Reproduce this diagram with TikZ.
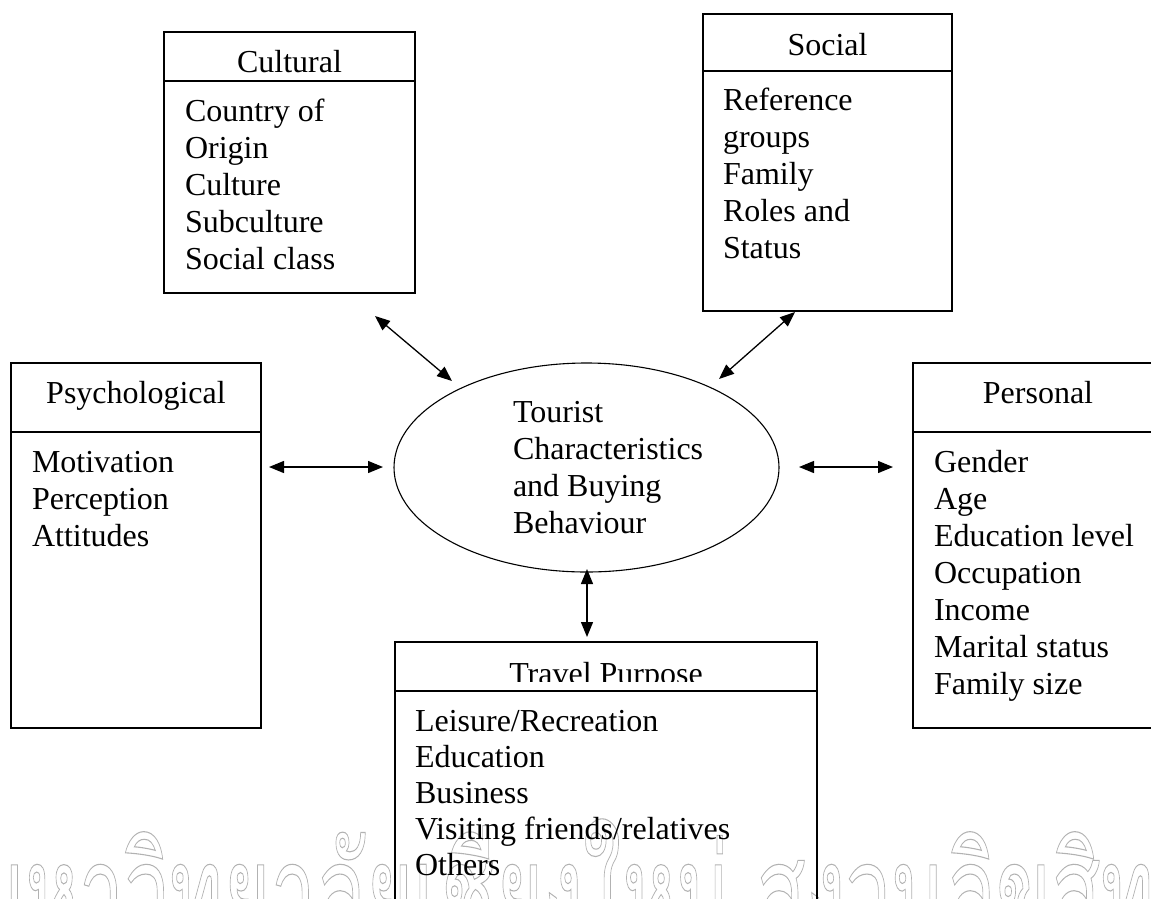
\documentclass[tikz,border=0pt]{standalone}
\usepackage{fontspec}
\setmainfont{Liberation Serif}
\newfontfamily\thaifont[Script=Thai]{Loma}
\usetikzlibrary{arrows.meta,shapes.geometric}

% outlined (stroked) text for the faint university mark
\newcommand{\outlined}[1]{\special{pdf:literal direct 1 Tr 1.1 w}#1\special{pdf:literal direct 0 Tr}}

\begin{document}
\begin{tikzpicture}[x=1pt,y=-1pt,
  every node/.style={inner sep=0pt, outer sep=0pt},
  frame/.style={draw, line width=1.6pt, anchor=north west},
  heading/.style={font=\fontsize{32}{37}\selectfont, anchor=base},
  items/.style={font=\fontsize{32}{37}\selectfont, align=left, anchor=north west},
  link/.style={{Triangle[length=15pt,width=12pt]}-{Triangle[length=15pt,width=12pt]}, line width=1.3pt}]

\useasboundingbox (0,0) rectangle (1151,898);

% faint outlined mark along the bottom edge
\node[anchor=base west, xscale=0.6, text=black!30,
      font=\thaifont\fontsize{135}{135}\selectfont] (mark) at (-28,940)
  {\outlined{มหาวิทยาลัยเชียงใหม่ สงวนลิขสิทธิ์}};

% Cultural
\node[frame, minimum width=251pt, minimum height=49pt] (cultHead) at (164,32) {};
\node[frame, minimum width=251pt, minimum height=212pt] (cultBody) at (164,81) {};
\node[heading] (cultTitle) at (289.5,72) {Cultural};
\node[items] (cultItems) at (185,95.1) {\strut Country of\\Origin\\Culture\\Subculture\\Social class};

% Social
\node[frame, minimum width=249pt, minimum height=57pt] (socHead) at (703,14) {};
\node[frame, minimum width=249pt, minimum height=240pt] (socBody) at (703,71) {};
\node[heading] (socTitle) at (827.5,55) {Social};
\node[items] (socItems) at (723,84.1) {\strut Reference\\groups\\Family\\Roles and\\Status};

% Psychological
\node[frame, minimum width=250pt, minimum height=69pt] (psyHead) at (11,363) {};
\node[frame, minimum width=250pt, minimum height=296pt] (psyBody) at (11,432) {};
\node[heading] (psyTitle) at (136,403) {Psychological};
\node[items] (psyItems) at (32,446.1) {\strut Motivation\\Perception\\Attitudes};

% Personal
\node[frame, minimum width=250pt, minimum height=69pt] (perHead) at (913,363) {};
\node[frame, minimum width=250pt, minimum height=296pt] (perBody) at (913,432) {};
\node[heading] (perTitle) at (1038,403) {Personal};
\node[items] (perItems) at (934,446.1) {\strut Gender\\Age\\Education level\\Occupation\\Income\\Marital status\\Family size};

% Travel Purpose
\node[frame, minimum width=422pt, minimum height=49pt] (trvHead) at (395,642) {};
\node[frame, minimum width=422pt, minimum height=300pt] (trvBody) at (395,691) {};
\begin{scope}
  \clip (395,600) rectangle (817,681);
  \node[heading] (trvTitle) at (606,684) {Travel Purpose};
\end{scope}
\node[items, font=\fontsize{32}{36}\selectfont] (trvItems) at (415,706.1)
  {\strut Leisure/Recreation\\Education\\Business\\Visiting friends/relatives\\Others};

% centre
\node[draw, ellipse, line width=1.1pt, minimum width=385pt, minimum height=209pt] (core) at (586.5,467.5) {};
\node[items] (coreText) at (513,396.1) {\strut Tourist\\Characteristics\\and Buying\\Behaviour};

% connector ends
\coordinate (cultEnd) at (375,316);  \coordinate (cultCore) at (452,381);
\coordinate (socEnd)  at (795,312);  \coordinate (socCore)  at (719,379);
\coordinate (psyEnd)  at (269,467);  \coordinate (psyCore)  at (383,467);
\coordinate (perEnd)  at (893,467);  \coordinate (perCore)  at (799,467);
\coordinate (trvEnd)  at (587,637);  \coordinate (trvCore)  at (587,569);

\draw[link] (cultEnd) -- (cultCore);
\draw[link] (socEnd) -- (socCore);
\draw[link] (psyEnd) -- (psyCore);
\draw[link] (perCore) -- (perEnd);
\draw[link] (trvCore) -- (trvEnd);
\end{tikzpicture}
\end{document}
